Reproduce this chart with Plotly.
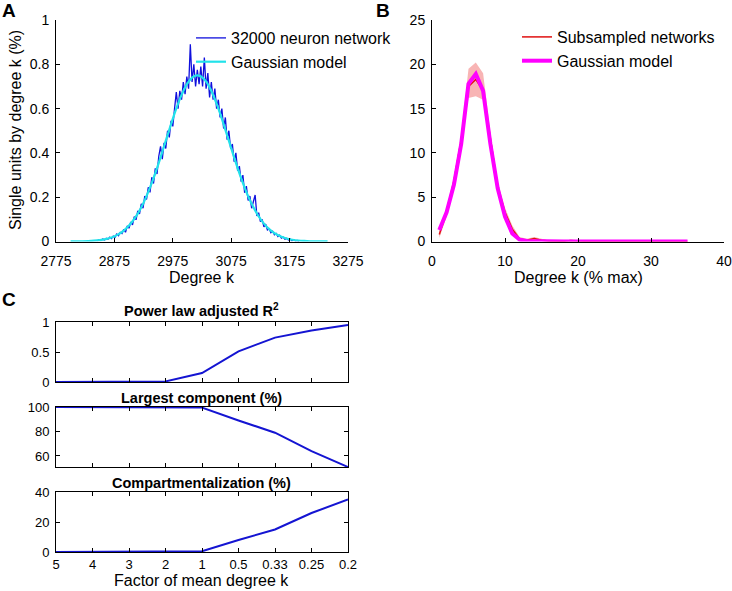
import plotly.graph_objects as go

# ---------------- Data ----------------
# Panel A: degree distribution of 32000 neuron network
degree_k = list(range(2846, 3192, 3))
units_pct = [
    0.004, 0.008, 0.005, 0.011, 0.007, 0.014, 0.010, 0.020, 0.013, 0.024,
    0.019, 0.034, 0.026, 0.041, 0.036, 0.055, 0.042, 0.070, 0.060, 0.088,
    0.075, 0.112, 0.098, 0.138, 0.125, 0.170, 0.150, 0.205, 0.190, 0.245,
    0.222, 0.290, 0.262, 0.330, 0.305, 0.385, 0.430, 0.372, 0.445, 0.420,
    0.500, 0.470, 0.545, 0.520, 0.600, 0.675, 0.600, 0.680, 0.640, 0.720,
    0.665, 0.745, 0.690, 0.890, 0.720, 0.800, 0.700, 0.775, 0.710, 0.790,
    0.700, 0.830, 0.690, 0.760, 0.650, 0.720, 0.640, 0.690, 0.600, 0.640,
    0.560, 0.600, 0.510, 0.560, 0.460, 0.500, 0.420, 0.440, 0.360, 0.400,
    0.320, 0.340, 0.270, 0.300, 0.220, 0.250, 0.185, 0.205, 0.150, 0.180,
    0.210, 0.115, 0.130, 0.090, 0.100, 0.066, 0.078, 0.052, 0.058, 0.040,
    0.046, 0.030, 0.036, 0.022, 0.028, 0.015, 0.020, 0.010, 0.014, 0.007,
    0.011, 0.004, 0.008, 0.003, 0.005, 0.002,
]
model_k = list(range(2800, 3250, 10))
model_pct = [
    0.0002, 0.0005, 0.001, 0.0019, 0.0035, 0.0063, 0.011, 0.018, 0.030, 0.047,
    0.072, 0.105, 0.149, 0.205, 0.271, 0.347, 0.430, 0.513, 0.593, 0.662,
    0.714, 0.744, 0.749, 0.729, 0.685, 0.622, 0.546, 0.463, 0.380, 0.301,
    0.230, 0.170, 0.122, 0.084, 0.056, 0.036, 0.0225, 0.0136, 0.0079, 0.0044,
    0.0024, 0.0012, 0.0006, 0.0003, 0.00015,
]

# Panel B: subsampled networks (% of max degree)
sub_k = list(range(1, 36))
sub_mean = [0.8, 3.3, 6.8, 11.5, 17.5, 18.3, 17.0, 11.6, 6.2, 3.3,
            1.4, 0.3, 0.15, 0.35, 0.15, 0.06, 0.03, 0.02, 0.1, 0.04,
            0.02, 0.01, 0.0, 0.0, 0.0, 0.0, 0.0, 0.0, 0.0, 0.0,
            0.0, 0.0, 0.0, 0.0, 0.0]
sub_upper = [1.3, 3.8, 7.3, 12.1, 19.5, 20.2, 19.0, 12.3, 6.7, 3.8,
             1.8, 0.5, 0.3, 0.5, 0.3, 0.15, 0.1, 0.08, 0.2, 0.1,
             0.06, 0.04, 0.02, 0.02, 0.02, 0.02, 0.02, 0.02, 0.02, 0.02,
             0.02, 0.02, 0.02, 0.02, 0.02]
sub_lower = [0.4, 2.8, 6.2, 10.8, 16.2, 16.4, 16.0, 10.9, 5.7, 2.9,
             1.0, 0.1, 0.02, 0.2, 0.05, 0.0, 0.0, 0.0, 0.0, 0.0,
             0.0, 0.0, 0.0, 0.0, 0.0, 0.0, 0.0, 0.0, 0.0, 0.0,
             0.0, 0.0, 0.0, 0.0, 0.0]
sub_model = [1.3, 3.3, 6.4, 11.0, 17.8, 18.9, 17.0, 11.0, 6.0, 2.8,
             0.9, 0.2, 0.05, 0.02, 0.01, 0.0, 0.0, 0.0, 0.0, 0.0,
             0.0, 0.0, 0.0, 0.0, 0.0, 0.0, 0.0, 0.0, 0.0, 0.0,
             0.0, 0.0, 0.0, 0.0, 0.0]

# Panel C: network measures vs factor of mean degree
factors = ["5", "4", "3", "2", "1", "0.5", "0.33", "0.25", "0.2"]
power_r2 = [0.0, 0.0, 0.0, 0.01, 0.15, 0.51, 0.74, 0.86, 0.95]
largest_comp = [100, 100, 100, 100, 99.5, 89, 79, 64, 51]
compart = [0.0, 0.0, 0.0, 0.0, 0.5, 8, 15, 26, 35]

# ---------------- Layout helpers ----------------
W, H = 732, 591
FONT = "Liberation Sans, Arial, Helvetica, sans-serif"


def dx(a, b):
    return [a / W, b / W]


def dy(top, bottom):
    return [1 - bottom / H, 1 - top / H]


fig = go.Figure()

# Panel A
fig.add_trace(go.Scatter(x=degree_k, y=units_pct, mode="lines",
                         line=dict(color="#1010dd", width=1.3),
                         name="32000 neuron network", xaxis="x", yaxis="y",
                         legend="legend"))
fig.add_trace(go.Scatter(x=model_k, y=model_pct, mode="lines",
                         line=dict(color="#22e2ea", width=2.2, shape="spline"),
                         name="Gaussian model", xaxis="x", yaxis="y",
                         legend="legend"))

# Panel B
fig.add_trace(go.Scatter(x=sub_k, y=sub_upper, mode="lines",
                         line=dict(width=0, color="rgba(0,0,0,0)"),
                         showlegend=False, hoverinfo="skip",
                         xaxis="x2", yaxis="y2"))
fig.add_trace(go.Scatter(x=sub_k, y=sub_lower, mode="lines",
                         line=dict(width=0, color="rgba(0,0,0,0)"),
                         fill="tonexty", fillcolor="rgba(245,140,140,0.65)",
                         showlegend=False, hoverinfo="skip",
                         xaxis="x2", yaxis="y2"))
fig.add_trace(go.Scatter(x=sub_k, y=sub_mean, mode="lines",
                         line=dict(color="#e01010", width=1.5),
                         name="Subsampled networks", xaxis="x2", yaxis="y2",
                         legend="legend2"))
fig.add_trace(go.Scatter(x=sub_k, y=sub_model, mode="lines",
                         line=dict(color="#ff00ff", width=4),
                         name="Gaussian model", xaxis="x2", yaxis="y2",
                         legend="legend2"))

# Panel C
cblue = "#1414d2"
for vals, xa, ya in [(power_r2, "x3", "y3"), (largest_comp, "x4", "y4"),
                     (compart, "x5", "y5")]:
    fig.add_trace(go.Scatter(x=factors, y=vals, mode="lines",
                             line=dict(color=cblue, width=2),
                             showlegend=False, xaxis=xa, yaxis=ya))

tickfont = dict(family=FONT, size=14, color="black")
ctickfont = dict(family=FONT, size=13, color="black")
TITLE_SIZE = 16

open_axis = dict(showline=True, linecolor="black", linewidth=1,
                 ticks="inside", ticklen=4, tickcolor="black",
                 showgrid=False, zeroline=False, mirror=False,
                 tickfont=tickfont, automargin=False)
box_axis = dict(showline=True, linecolor="black", linewidth=1,
                ticks="inside", ticklen=4, tickcolor="black",
                showgrid=False, zeroline=False, mirror="ticks",
                tickfont=ctickfont, automargin=False)

legend_common = dict(xanchor="left", yanchor="top",
                     bgcolor="rgba(0,0,0,0)", borderwidth=0,
                     font=dict(family=FONT, size=16, color="black"),
                     itemwidth=30, tracegroupgap=0, traceorder="normal")

fig.update_layout(
    template="none",
    width=W, height=H,
    margin=dict(l=0, r=0, t=0, b=0, pad=0, autoexpand=False),
    paper_bgcolor="white", plot_bgcolor="white",
    font=dict(family=FONT, color="black"),
    xaxis=dict(open_axis, domain=dx(56, 348), anchor="y",
               range=[2775, 3275], tick0=2775, dtick=100,
               ticklabelstandoff=7),
    yaxis=dict(open_axis, domain=dy(20, 241.5), anchor="x",
               range=[0, 1], dtick=0.2, ticklabelstandoff=3),
    xaxis2=dict(open_axis, domain=dx(432, 724), anchor="y2",
                range=[0, 40], dtick=10, ticklabelstandoff=7),
    yaxis2=dict(open_axis, domain=dy(20, 241.5), anchor="x2",
                range=[0, 25], dtick=5, ticklabelstandoff=3),
    xaxis3=dict(box_axis, domain=dx(56, 348), anchor="y3",
                type="category", range=[0, 8], showticklabels=False),
    yaxis3=dict(box_axis, domain=dy(322, 382), anchor="x3",
                range=[0, 1], tickvals=[0, 0.5, 1], ticklabelstandoff=3),
    xaxis4=dict(box_axis, domain=dx(56, 348), anchor="y4",
                type="category", range=[0, 8], showticklabels=False),
    yaxis4=dict(box_axis, domain=dy(407, 467), anchor="x4",
                range=[51, 100], tickvals=[60, 80, 100], ticklabelstandoff=3),
    xaxis5=dict(box_axis, domain=dx(56, 348), anchor="y5",
                type="category", range=[0, 8]),
    yaxis5=dict(box_axis, domain=dy(492, 552), anchor="x5",
                range=[0, 40], tickvals=[0, 20, 40], ticklabelstandoff=3),
    legend=dict(legend_common, x=191 / W, y=1 - 21 / H),
    legend2=dict(legend_common, x=517 / W, y=1 - 20 / H),
)

ann = []
# panel letters
for txt, x, y in [("A", 0, 10), ("B", 374, 10), ("C", 0, 299.5)]:
    ann.append(dict(text="<b>%s</b>" % txt, x=x / W, y=1 - y / H,
                    xref="paper", yref="paper", xanchor="left",
                    yanchor="middle", showarrow=False,
                    font=dict(family=FONT, size=19, color="black")))
# panel C subplot titles
for txt, y in [("Power law adjusted R<sup>2</sup>", 310),
               ("Largest component (%)", 397.5),
               ("Compartmentalization (%)", 482.5)]:
    ann.append(dict(text="<b>%s</b>" % txt, x=202 / W, y=1 - y / H,
                    xref="paper", yref="paper", xanchor="center",
                    yanchor="middle", showarrow=False,
                    font=dict(family=FONT, size=14.5, color="black")))
# axis titles
for txt, x, y, ang in [("Degree k", 202, 277, 0),
                       ("Single units by degree k (%)", 15, 130, -90),
                       ("Degree k (% max)", 578, 277, 0),
                       ("Factor of mean degree k", 202, 580, 0)]:
    ann.append(dict(text=txt, x=x / W, y=1 - y / H, xref="paper",
                    yref="paper", xanchor="center", yanchor="middle",
                    textangle=ang, showarrow=False,
                    font=dict(family=FONT, size=TITLE_SIZE, color="black")))
fig.update_layout(annotations=ann)

fig.write_html("out.html",
               config={"displayModeBar": False},
               post_script="document.body.style.margin='0';"
                           "document.body.style.overflow='hidden';")
